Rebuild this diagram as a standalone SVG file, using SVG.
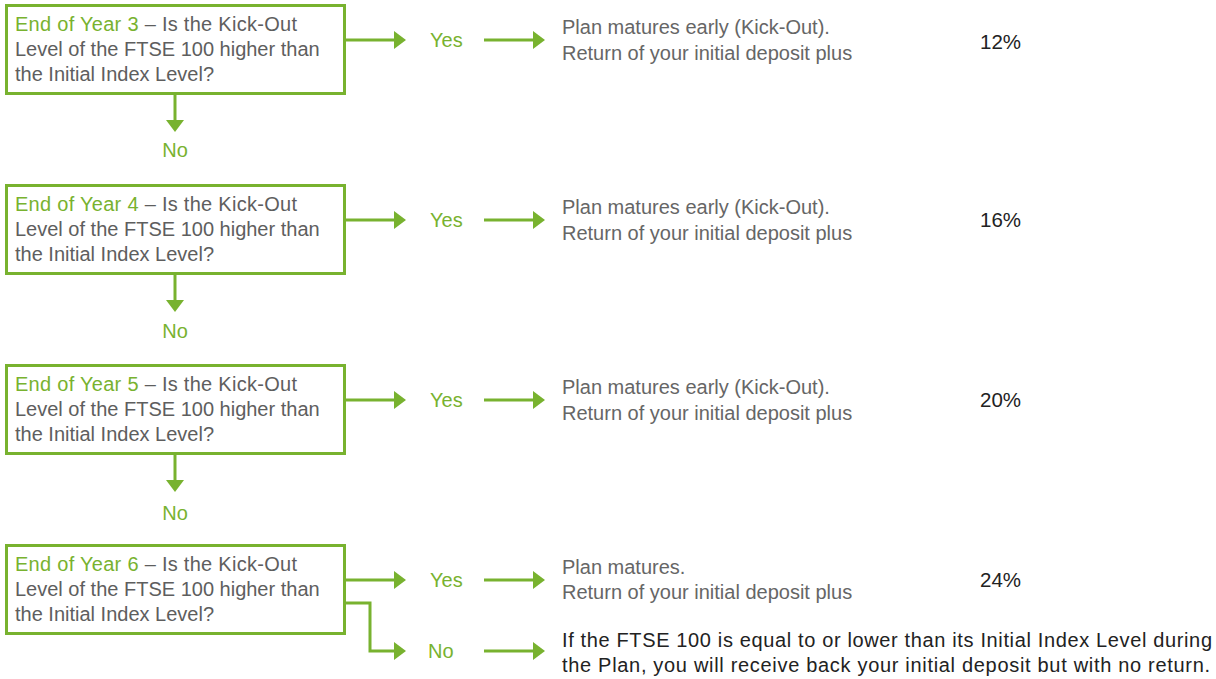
<svg xmlns="http://www.w3.org/2000/svg" width="1216" height="679" viewBox="0 0 1216 679">
<defs>
<marker id="ah" markerUnits="userSpaceOnUse" markerWidth="13" markerHeight="20" refX="0" refY="9" orient="auto" viewBox="0 0 13 20">
<path d="M0,0 L12,9 L0,18 Z" fill="#78b22f"/>
</marker>
<style>
.box{fill:#fff;stroke:#78b22f;stroke-width:3}
.c{fill:none;stroke:#78b22f;stroke-width:3;marker-end:url(#ah)}
text{font-family:"Liberation Sans",Arial,sans-serif;font-size:20px}
.q{fill:#5e5e5e}
.g{fill:#78b22f}
.p{fill:#666}
.n{fill:#222}
.pct{fill:#222;font-size:20.5px}
</style>
</defs>
<rect width="1216" height="679" fill="#fff"/>
<g id="connectors">
<path class="c" d="M345,40 H394"/>
<path class="c" d="M484,40 H533"/>
<path class="c" d="M175,94 V120"/>
<path class="c" d="M345,220 H394"/>
<path class="c" d="M484,220 H533"/>
<path class="c" d="M175,274 V300"/>
<path class="c" d="M345,400 H394"/>
<path class="c" d="M484,400 H533"/>
<path class="c" d="M175,454 V480"/>
<path class="c" d="M345,580 H394"/>
<path class="c" d="M484,580 H533"/>
<path class="c" d="M345,603 H370 V651 H394"/>
<path class="c" d="M484,651 H533"/>
</g>
<g id="q3">
<rect class="box" x="6.5" y="5.5" width="338" height="88"/>
<text x="15" y="31" textLength="282"><tspan class="g">End of Year 3</tspan><tspan class="q"> – Is the Kick-Out</tspan></text>
<text class="q" x="15" y="56">Level of the FTSE 100 higher than</text>
<text class="q" x="15" y="81">the Initial Index Level?</text>
</g>
<g id="yes3"><text class="g" x="430" y="47">Yes</text></g>
<g id="res3">
<text class="p" x="562" y="34">Plan matures early (Kick-Out).</text>
<text class="p" x="562" y="60">Return of your initial deposit plus</text>
<text class="pct" x="980" y="49">12%</text>
</g>
<g id="no3"><text class="g" x="175" y="157" text-anchor="middle">No</text></g>
<g id="q4">
<rect class="box" x="6.5" y="185.5" width="338" height="88"/>
<text x="15" y="211" textLength="282"><tspan class="g">End of Year 4</tspan><tspan class="q"> – Is the Kick-Out</tspan></text>
<text class="q" x="15" y="236">Level of the FTSE 100 higher than</text>
<text class="q" x="15" y="261">the Initial Index Level?</text>
</g>
<g id="yes4"><text class="g" x="430" y="227">Yes</text></g>
<g id="res4">
<text class="p" x="562" y="214">Plan matures early (Kick-Out).</text>
<text class="p" x="562" y="240">Return of your initial deposit plus</text>
<text class="pct" x="980" y="227">16%</text>
</g>
<g id="no4"><text class="g" x="175" y="338" text-anchor="middle">No</text></g>
<g id="q5">
<rect class="box" x="6.5" y="365.5" width="338" height="88"/>
<text x="15" y="391" textLength="282"><tspan class="g">End of Year 5</tspan><tspan class="q"> – Is the Kick-Out</tspan></text>
<text class="q" x="15" y="416">Level of the FTSE 100 higher than</text>
<text class="q" x="15" y="441">the Initial Index Level?</text>
</g>
<g id="yes5"><text class="g" x="430" y="407">Yes</text></g>
<g id="res5">
<text class="p" x="562" y="394">Plan matures early (Kick-Out).</text>
<text class="p" x="562" y="420">Return of your initial deposit plus</text>
<text class="pct" x="980" y="407">20%</text>
</g>
<g id="no5"><text class="g" x="175" y="520" text-anchor="middle">No</text></g>
<g id="q6">
<rect class="box" x="6.5" y="545.5" width="338" height="88"/>
<text x="15" y="571" textLength="282"><tspan class="g">End of Year 6</tspan><tspan class="q"> – Is the Kick-Out</tspan></text>
<text class="q" x="15" y="596">Level of the FTSE 100 higher than</text>
<text class="q" x="15" y="621">the Initial Index Level?</text>
</g>
<g id="yes6"><text class="g" x="430" y="587">Yes</text></g>
<g id="res6">
<text class="p" x="562" y="574">Plan matures.</text>
<text class="p" x="562" y="599">Return of your initial deposit plus</text>
<text class="pct" x="980" y="587">24%</text>
</g>
<g id="no6"><text class="g" x="428" y="658">No</text></g>
<g id="resno">
<text class="n" x="562" y="647" font-size="20.5" textLength="650">If the FTSE 100 is equal to or lower than its Initial Index Level during</text>
<text class="n" x="562" y="672" font-size="20.5" textLength="648">the Plan, you will receive back your initial deposit but with no return.</text>
</g>
</svg>
